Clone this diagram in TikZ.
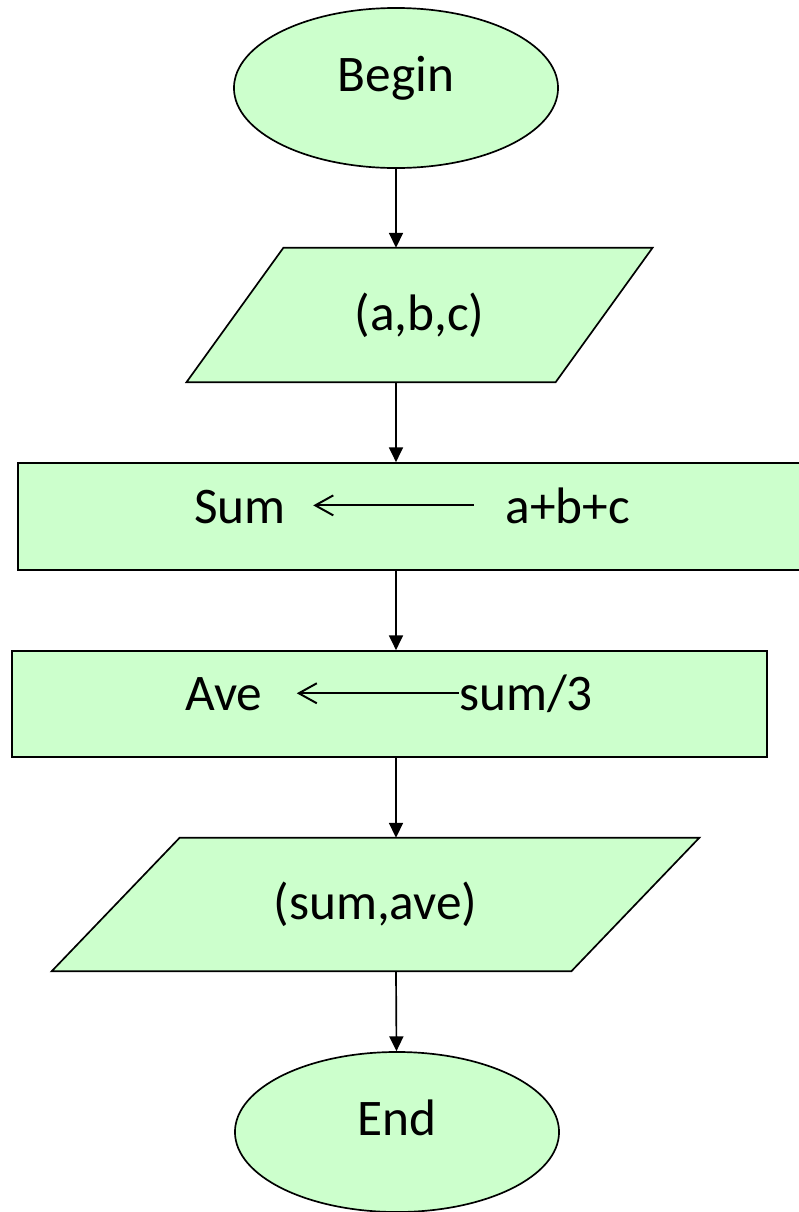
\documentclass[tikz,border=0pt]{standalone}
\usepackage{fontspec}
\setmainfont{Carlito}
\usetikzlibrary{shapes.geometric, arrows.meta, backgrounds}
\definecolor{boxgreen}{HTML}{CCFFCC}
\begin{document}
\begin{tikzpicture}
[
x = 0.025cm, y = -0.025cm,
terminal/.style = {ellipse, draw, fill = boxgreen, line width = 1.2pt, minimum width = 8.1cm, minimum height = 4cm, inner sep = 0pt, font = \fontsize{36.5}{44}\selectfont},
      io/.style = {rectangle, inner sep = 0pt, font = \fontsize{36.5}{44}\selectfont},
  ioedge/.style = {draw, fill = boxgreen, line width = 1.2pt, line join = miter},
 process/.style = {rectangle, draw, fill = boxgreen, line width = 1.2pt, inner sep = 0pt},
     lbl/.style = {inner sep = 0pt, anchor = base, font = \fontsize{36.5}{44}\selectfont},
    flow/.style = {-{Triangle[length = 0.37cm, width = 0.35cm]}, line width = 1.2pt},
  assign/.style = {-{Straight Barb[length = 0.45cm, width = 0.5cm]}, line width = 1.4pt}
]
    \useasboundingbox (0,0) rectangle (798,1212);

    \node[terminal] (begin) at (396,88) {\raisebox{0.7cm}{Begin}};
    \node[io, minimum width = 9.2125cm, minimum height = 3.35cm] (abc) at (419.5,315) {(a,b,c)};
    \node[process, minimum width = 19.6cm, minimum height = 2.675cm] (sum) at (410,516.5) {};
    \node[process, minimum width = 18.875cm, minimum height = 2.65cm] (ave) at (389.5,704) {};
    \node[io, minimum width = 12.975cm, minimum height = 3.325cm] (out) at (375.5,904.5) {(sum,ave)};
    \node[terminal] (end) at (397,1132) {\raisebox{0.7cm}{End}};

    % slanted sides of the input/output boxes
    \begin{scope}[on background layer]
        \path[ioedge] ([xshift = 1.2125cm]abc.north west) -- ([xshift = 1.2125cm]abc.north east)
            -- ([xshift = -1.2125cm]abc.south east) -- ([xshift = -1.2125cm]abc.south west) -- cycle;
        \path[ioedge] ([xshift = 1.6cm]out.north west) -- ([xshift = 1.6cm]out.north east)
            -- ([xshift = -1.6cm]out.south east) -- ([xshift = -1.6cm]out.south west) -- cycle;
    \end{scope}

    \node[lbl] (sumvar) at (240,523) {Sum};
    \node[lbl] (sumexpr) at (568,523) {a+b+c};
    \node[lbl] (avevar) at (224,710) {Ave};
    \node[lbl] (aveexpr) at (526,710) {sum/3};

    \draw[assign, shorten > = 0.68cm, shorten < = 0.8cm] (sumexpr.west) -- (sumexpr.west -| sumvar.east);
    \draw[assign, shorten > = 0.85cm] (aveexpr.west) -- (aveexpr.west -| avevar.east);

    \draw[flow] (begin) -- (begin |- abc.north);
    \draw[flow] (abc.south -| begin) -- (begin |- sum.north);
    \draw[flow] (sum.south -| begin) -- (begin |- ave.north);
    \draw[flow] (ave.south -| begin) -- (begin |- out.north);
    \draw[flow] (out.south -| begin) -- (end);
\end{tikzpicture}
\end{document}
